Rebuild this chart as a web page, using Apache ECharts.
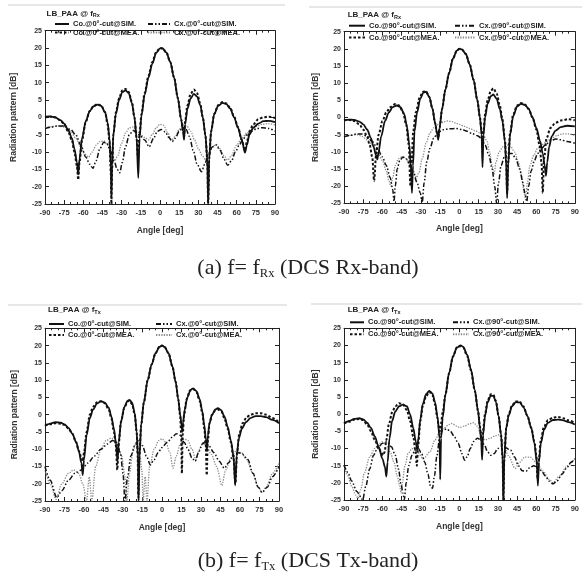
<!DOCTYPE html>
<html><head><meta charset="utf-8">
<script src="https://cdn.jsdelivr.net/npm/echarts@6/dist/echarts.min.js"></script>
<style>html,body{margin:0;padding:0;background:#fff}#c{width:582px;height:577px}</style>
</head><body><div id="c"></div>
<script>
// ---------- (a) f = fRx, 0°-cut ----------
const rx0CoSim = [[-90,0.2],[-86,0.3],[-82,0],[-78,-0.8],[-75,-1.8],[-72,-3.5],[-69,-6],[-67,-9],[-65,-13],[-64,-16.5],[-63,-12],[-61,-6],[-58,-1],[-55,1.8],[-52,3.2],[-49,3.7],[-46,3.3],[-43,1.5],[-41,-1.5],[-39.5,-6],[-38.5,-14],[-38,-23],[-37.5,-14],[-36.5,-5],[-34.5,1],[-32,5],[-29.5,7.3],[-27,7.8],[-24.5,7],[-22,4.2],[-20,0],[-18.3,-6],[-17,-17.5],[-16,-6],[-14.5,0.5],[-12,6.5],[-9,11.5],[-6,15.5],[-3,18.6],[0,19.9],[2,19.9],[5,18.7],[8,16],[11,11.5],[14,5.5],[16.5,-0.5],[18,-4],[18.8,-6.5],[19.7,-2],[21.5,2.5],[24,5.5],[26.5,6.8],[29,6],[31.5,3.5],[33.5,0],[35.5,-5],[37,-12],[37.7,-25],[38.5,-12],[40,-4],[42.5,1],[45.5,3.3],[49,4.2],[52,3.8],[55,2.5],[58,0],[61,-3],[64,-6.5],[66.5,-10.2],[68,-8],[70,-5],[73,-3],[77,-1.8],[81,-1.1],[85,-1],[90,-1.4]];
const rx0CoMea = [[-90,0],[-86,0.2],[-82,0],[-78,-0.8],[-75,-2],[-72,-4],[-69,-6.5],[-67,-10],[-65,-14],[-64,-18],[-63,-13],[-61,-6.5],[-58,-1.2],[-55,1.8],[-52,3.3],[-49,3.8],[-46,3.4],[-43,1.5],[-41,-2],[-39.5,-7],[-38.5,-16],[-38,-25],[-37.5,-15],[-36.5,-5],[-34.5,1.5],[-32,5.5],[-29.5,7.8],[-27,8.2],[-24.5,7.3],[-22,4.5],[-20,0],[-18.3,-6],[-17.2,-12],[-16,-5],[-14.5,1],[-12,7],[-9,12],[-6,16],[-3,18.8],[0,20],[2,19.9],[5,18.7],[8,16],[11,11.5],[14,5.5],[16.5,-0.5],[18,-3.5],[18.8,-5],[19.7,-1],[21.5,3.5],[24,6.8],[26.5,8],[29,7],[31.5,4],[33.5,0],[35.5,-5],[37,-12],[37.7,-25],[38.5,-12],[40,-4],[42.5,1],[45.5,3.5],[49,4.4],[52,4],[55,2.7],[58,0.2],[61,-2.8],[64,-6.5],[66.5,-9.5],[68,-7],[70,-4],[73,-2],[77,-0.5],[81,0],[85,0.2],[90,-0.2]];
const rx0CxSim = [[-90,-3.2],[-85,-2.8],[-80,-2.5],[-75,-2.5],[-70,-3.5],[-66,-5],[-62,-8],[-58,-11.5],[-55,-13.5],[-52.5,-14.7],[-50,-12.5],[-47,-9],[-44,-7.2],[-41.5,-7.5],[-39,-9.5],[-36,-12.5],[-33.5,-15],[-31.5,-16],[-29.5,-13],[-27,-8.5],[-24,-5],[-21,-3.8],[-18,-4.5],[-15,-5.5],[-12,-6.5],[-8.5,-8.5],[-5,-6],[-2,-4],[1,-3.5],[4,-4.2],[7,-5.8],[9.5,-7],[12,-6],[15,-4],[18,-3],[20.5,-3.5],[23,-5.5],[26,-9.5],[29,-13.5],[32.5,-15.7],[35,-13.5],[38,-10.5],[41,-8.5],[44,-8],[47,-9.5],[50,-12],[53,-13.8],[56,-12.5],[59,-10],[62,-8],[65,-6.3],[68,-5],[72,-4],[76,-3.2],[80,-3],[85,-3.2],[90,-4]];
const rx0CxMea = [[-90,-3],[-85,-2.7],[-80,-2.5],[-75,-2.8],[-70,-4],[-66,-6],[-62,-8.5],[-59,-10.5],[-56,-11.5],[-53,-10],[-50,-8],[-47,-7],[-44,-6.8],[-41,-8],[-38,-10.5],[-35.5,-12.5],[-33,-11],[-30,-7.5],[-27,-4.5],[-24,-3],[-21,-2.8],[-18,-4],[-15,-5],[-12,-5.8],[-9,-6.5],[-6,-5],[-3,-3],[0,-2],[3,-2.3],[6,-4.5],[9,-6.5],[12,-5.5],[15,-3.5],[18,-2.2],[21,-2.5],[24,-4],[27,-6.5],[30,-9],[33,-11],[35.5,-12.2],[38,-10.5],[41,-8.5],[44,-7.8],[47,-9],[50,-11],[53,-12.3],[56,-11],[60,-8],[64,-6],[68,-4.5],[72,-3.5],[76,-2.5],[80,-2],[85,-1.8],[90,-2.2]];

// ---------- (a) f = fRx, 90°-cut ----------
const rx90CoSim = [[-90,-0.8],[-86,-0.6],[-82,-0.7],[-78,-1.2],[-75,-2],[-72,-3.5],[-69,-6],[-67,-8.5],[-65,-11],[-64,-12.2],[-63,-10],[-61,-5.5],[-58,-1],[-55,1.5],[-52,3],[-49,3.5],[-46,3],[-43,1],[-41,-2.5],[-39,-8],[-37.8,-15],[-37,-22],[-36.2,-14],[-35,-4],[-33,1.5],[-30.5,5.5],[-28,7.3],[-26,7.5],[-23.5,6],[-21,2.5],[-19,-1.5],[-17.5,-4.5],[-16.5,-6.5],[-15.5,-3],[-13.5,2.5],[-11,8],[-8,13],[-5,17.2],[-2,19.5],[0,20],[2,19.8],[5,18.5],[8,15.5],[11,11],[14,5],[16,0],[17.3,-5],[18,-14.5],[18.8,-5],[20,0],[22,4],[24.5,6.2],[26.5,6.7],[29,5.5],[31.5,2.5],[33.5,-1],[35.5,-7],[36.5,-14],[37.2,-23.5],[38,-14],[39.5,-5],[42,0.5],[45,3.2],[48,4],[51,3.7],[54,2.5],[57,0],[60,-3],[63,-7],[65,-10.5],[66.5,-14],[67.5,-17],[68.5,-13],[70,-8.5],[72,-5.5],[75,-3.8],[79,-2.8],[84,-2.4],[90,-2.6]];
const rx90CoMea = [[-90,-0.8],[-86,-0.7],[-82,-1],[-78,-2],[-75,-3.5],[-72,-5.5],[-70,-8],[-68,-11.5],[-66.5,-18.5],[-65,-11],[-63,-5],[-60,-1],[-57,1.5],[-54,3],[-50,3.9],[-47,3.5],[-44,1.5],[-41.5,-2],[-39.5,-8],[-38.2,-20],[-37.4,-14],[-36,-4],[-34,1.5],[-31,5.8],[-28.5,7.5],[-26,7.6],[-23.5,6],[-21,2.5],[-19,-1.5],[-17.5,-4.5],[-16.5,-6],[-15.5,-3],[-13.5,2.5],[-11,8],[-8,13],[-5,17.2],[-2,19.5],[0,20],[2,19.8],[5,18.5],[8,15.5],[11,11],[14,5],[16,0],[17.3,-4],[18,-9],[18.8,-4],[20,1],[22,5],[24.5,7.8],[26.5,8.5],[29,7],[31.5,3.5],[33.5,-0.5],[35.5,-6.5],[36.5,-13],[37.2,-22],[38,-13],[39.5,-4.5],[42,1],[45,3.5],[48,4.2],[51,3.8],[54,2.5],[57,0],[60,-3.5],[62.5,-8],[64,-13],[65,-22],[66,-12],[68,-6],[71,-3],[75,-1.5],[80,-0.8],[85,-0.5],[90,-0.8]];
const rx90CxSim = [[-90,-5.6],[-85,-5.2],[-80,-4.8],[-76,-4.8],[-72,-5.5],[-68,-7],[-64,-9],[-60,-11.5],[-57,-14],[-54,-17.5],[-52,-21],[-51,-24.5],[-50,-20],[-48.5,-15],[-46.5,-12.5],[-44,-11.5],[-41.5,-12],[-39,-13.5],[-36,-16],[-33,-19],[-30.5,-22],[-29,-24.8],[-27.5,-19],[-25.5,-13],[-23,-9],[-20,-6],[-17,-4.5],[-13,-3.6],[-8,-3.3],[-3,-3.2],[2,-3.5],[6,-4],[10,-4.7],[14,-5.3],[17,-6],[20,-8],[23,-11],[25.5,-15],[27.5,-20],[29,-25],[30.5,-19],[32.5,-14],[35,-11.5],[38,-10.5],[41,-10.5],[44,-12],[47,-15],[49.5,-19],[51,-22],[52.5,-24.5],[54,-20],[56,-15.5],[58.5,-12.5],[61,-10.5],[64,-9],[67,-8],[71,-6.8],[75,-6.3],[79,-6.5],[84,-7],[90,-7.5]];
const rx90CxMea = [[-90,-5.5],[-85,-5.2],[-80,-5],[-76,-5.5],[-72,-6.5],[-68,-8],[-64,-10],[-60,-12.5],[-57,-15.5],[-55,-18.5],[-53.5,-20],[-52,-17.5],[-50,-14],[-47.5,-12],[-45,-11.5],[-42,-12],[-39,-13.5],[-36,-15.5],[-33.5,-17.5],[-31.5,-16],[-29,-12],[-26,-7.5],[-23,-4.5],[-20,-3],[-16,-2],[-12,-1.2],[-9,-1],[-6,-1.2],[-3,-1.6],[0,-2],[4,-2.6],[8,-3.2],[12,-3.8],[16,-4.5],[19,-5.2],[21.5,-7],[23.5,-10],[25.5,-14],[27,-16.5],[28.5,-13],[31,-10],[34,-8.5],[37,-8],[40,-8.5],[43,-10],[46,-13],[48.5,-17],[50.5,-22],[51.5,-23.5],[53,-19],[55,-14],[58,-11],[61,-9],[64,-8],[68,-7],[72,-6],[76,-5.3],[80,-4.8],[85,-4.8],[90,-5.2]];

// ---------- (b) f = fTx, 0°-cut ----------
const tx0CoSim = [[-90,-3.3],[-86,-2.6],[-82,-2.2],[-78,-2.3],[-75,-2.8],[-72,-3.8],[-69,-5.5],[-66,-8],[-64,-10.5],[-62,-14],[-61,-17.5],[-60,-13],[-58,-6],[-55.5,-1],[-53,1.5],[-50,3.2],[-47,3.9],[-44,3.5],[-41,2],[-39,-0.5],[-37,-4],[-35.5,-8],[-34.2,-13.5],[-33.3,-8],[-31.5,-2],[-29,2.2],[-26.5,4],[-25,4.3],[-23,3.5],[-21,0.5],[-19.5,-5],[-18.5,-12],[-18,-25],[-17.3,-12],[-16,-3],[-14,3.5],[-11,10],[-8,14.5],[-5,17.8],[-2,19.6],[0,20],[2,19.6],[5,17.8],[8,14],[10.5,9.5],[12.5,4.5],[14,0],[15,-3],[15.6,-5],[16.3,-2],[17.5,1.5],[19.5,5],[22,7.2],[24,7.6],[26.5,6.8],[29,4.5],[31,1],[32.5,-3],[33.7,-7],[34.5,-10.5],[35.3,-6],[36.5,-2.5],[38.5,0],[41,1.5],[43,1.9],[45.5,1.3],[48,-0.5],[50.5,-3.5],[53,-7.5],[55,-12],[56.3,-20.5],[57.5,-12],[59,-7],[61.5,-4],[64.5,-2.2],[68,-1],[72,-0.4],[76,-0.4],[80,-0.7],[85,-1.5],[90,-2.5]];
const tx0CoMea = [[-90,-3],[-86,-2.8],[-82,-2.5],[-78,-2.6],[-75,-3],[-72,-4],[-69,-5.5],[-66,-8],[-64,-10.5],[-62,-12.5],[-61,-13.5],[-60,-11],[-58,-5],[-55.5,0],[-53,2.3],[-50,3.6],[-47,3.8],[-44,3.3],[-41,1.5],[-39,-1],[-37,-5],[-35.5,-9],[-34.4,-16],[-33.5,-9],[-31.5,-2],[-29,2],[-26.5,3.8],[-25,4],[-23,3],[-21,0],[-19.5,-5],[-18.7,-12],[-18.2,-24],[-17.5,-12],[-16,-3],[-14,3.5],[-11,10],[-8,14.5],[-5,17.8],[-2,19.6],[0,20],[2,19.6],[5,17.8],[8,14],[10.5,9.5],[12.5,4.5],[14,-0.5],[14.8,-6],[15.3,-17],[15.9,-6],[17,0],[19,4.5],[21.5,7],[24,7.4],[26.5,6.5],[29,4],[31,0.5],[32.5,-4],[33.7,-9],[34.4,-17.5],[35.2,-8],[36.5,-2.5],[38.5,0],[41,1.2],[43,1.5],[45.5,1],[48,-1],[50.5,-4],[53,-8],[55,-12.5],[56.5,-20],[57.7,-11],[59.5,-5.5],[62,-2.5],[65,-0.8],[68,0],[72,0.4],[76,0.4],[80,0],[85,-1],[90,-2.3]];
const tx0CxSim = [[-90,-15],[-86,-19],[-81,-24],[-77,-22],[-72,-19],[-67,-17],[-62,-16],[-57,-14],[-52,-12],[-47,-10],[-42,-8.5],[-38,-7.5],[-35,-8],[-32,-11],[-30,-17],[-28.5,-25],[-26.5,-18],[-24,-12],[-21,-9],[-18,-7.5],[-15,-9],[-12,-12],[-9,-14.5],[-6,-13],[-3,-11],[0,-9.5],[4,-8],[8,-6.5],[11,-5.5],[14,-6],[17,-8],[20,-10],[23,-12.5],[25.5,-13.5],[28,-11],[31,-8.5],[33,-8],[36,-9],[40,-11],[44,-13.5],[48,-15.5],[51,-14],[55,-12],[59,-11],[62,-11.5],[66,-13],[70,-17],[74,-21],[77,-22.5],[81,-21],[85,-18],[90,-15]];
const tx0CxMea = [[-90,-16],[-86,-20],[-81.5,-24.5],[-77,-20],[-72,-17],[-68,-16],[-64,-17],[-61,-20],[-58,-25],[-56,-18],[-54,-25],[-51,-15],[-47,-10],[-43,-7.5],[-39,-6.8],[-35,-8],[-31,-12],[-28.5,-18],[-27,-25],[-25,-17],[-22.5,-11],[-20,-8],[-17.5,-10],[-15.5,-16],[-14.5,-25],[-13,-18],[-11.5,-25],[-9.5,-15],[-6,-10],[-2.5,-7.5],[0,-7],[3,-8],[6,-11],[8.5,-15.5],[11,-12],[14,-8.5],[17,-7],[20,-7.5],[23,-10],[26,-13],[29,-10],[31.5,-8],[34,-9],[38,-11.5],[42,-15],[46,-20.5],[49,-16],[53,-12.5],[57,-10.5],[61,-11],[65,-13],[70,-17],[74,-21],[77,-22.5],[80,-21],[85,-17],[90,-14]];

// ---------- (b) f = fTx, 90°-cut ----------
const tx90CoSim = [[-90,-2.7],[-86,-2],[-82,-1.4],[-78,-1.2],[-75,-1.5],[-72,-2.5],[-69,-4],[-66,-6.5],[-63,-9.5],[-60,-13],[-58,-15.5],[-57,-18.2],[-56,-14],[-54.5,-7],[-52.5,-2],[-50,0.8],[-47,2.3],[-44,2.8],[-41,2.3],[-38.5,0],[-36,-4],[-34,-8],[-33,-10.5],[-32,-7],[-30.5,-1.5],[-28.5,3],[-26,5.8],[-23.5,6.8],[-21,6],[-19,3.5],[-17,-1],[-15.5,-7],[-15,-19],[-14.3,-7],[-13,-1],[-11,5.5],[-8,12],[-5,16.8],[-2,19.4],[1,20],[3,19.6],[6,17.3],[9,13],[12,7],[14.5,1],[16,-4],[17,-8],[17.7,-13.3],[18.5,-6],[20,-0.5],[22,3.5],[24.5,5.4],[26.5,5.3],[28.5,3.5],[30.5,-0.5],[32.5,-6],[33.7,-13],[34.3,-25],[35,-13],[36.5,-4],[38.5,-0.3],[41,2.3],[44,3.5],[47,3.4],[50,2],[53,-0.5],[56,-4],[58.5,-8.5],[60.3,-14],[61.2,-20.8],[62,-14],[63.5,-8.5],[66,-4.5],[69,-2.5],[73,-1.7],[77,-1.6],[81,-1.8],[85,-2.3],[90,-3]];
const tx90CoMea = [[-90,-2.7],[-86,-2.2],[-82,-1.6],[-78,-1.4],[-75,-1.8],[-72,-3],[-69,-5],[-66,-7.5],[-63,-10],[-61,-11],[-59.5,-12],[-58.3,-11],[-57,-7.5],[-55,-3],[-52.5,0.5],[-50,2.3],[-47,3.2],[-44,2.8],[-41,1.2],[-38.5,-2],[-36,-6.5],[-34.2,-11],[-33.2,-15],[-32.2,-9],[-30.5,-2],[-28.5,2.5],[-26,5.2],[-23.5,6.5],[-21,5.5],[-19,2.8],[-17.2,-1],[-16,-4],[-15.3,-5],[-14.5,-3],[-13,0.5],[-11,5.5],[-8,12],[-5,16.8],[-2,19.4],[1,19.8],[3,19.4],[6,17],[9,12.8],[12,6.8],[14.5,1],[16,-3.5],[17,-6.5],[17.5,-8],[18.3,-5],[20,0],[22,4],[24.5,5.8],[26.5,5.6],[28.5,3.8],[30.5,-0.5],[32.5,-6],[33.7,-13],[34.3,-25],[35,-13],[36.5,-4],[38.5,0],[41,2.6],[44,3.7],[47,3.6],[50,2.2],[53,-0.5],[56,-4],[58.5,-8],[60,-12],[61,-19],[62,-13],[63.5,-7.5],[66,-3.5],[69,-1.8],[73,-1],[77,-0.8],[81,-1.2],[85,-1.8],[90,-2.6]];
const tx90CxSim = [[-90,-14.8],[-87,-17],[-84,-19.5],[-80,-22.5],[-77,-24],[-75.5,-25],[-73,-21],[-70,-16],[-67,-12],[-64,-10],[-60,-8.5],[-56.5,-8],[-53,-9.5],[-50,-12],[-47.5,-16],[-45.5,-20.5],[-44,-23],[-43,-25],[-41.5,-20],[-39.5,-15],[-37,-12],[-34.5,-10.5],[-32,-10],[-29.5,-11.5],[-27,-14],[-24.5,-17.5],[-22.5,-21],[-21,-21.6],[-19.5,-18],[-17.5,-12],[-15.5,-7],[-13,-4.6],[-10,-4.3],[-7,-5],[-4,-6.5],[-1,-8.5],[2,-11.5],[4,-13.4],[6,-12.5],[8.5,-10],[11,-8],[14,-7],[17,-7.5],[19.5,-9],[22,-11],[24.5,-12],[27,-11.5],[30,-10],[33,-9.5],[36,-9.8],[40,-10.5],[43,-12.5],[46,-15],[49,-16.5],[52,-16.6],[55,-15.5],[58,-15],[61,-15.5],[64,-16.5],[67,-18],[70,-19.5],[73,-20.3],[76,-19.5],[80,-17.5],[84,-15.5],[87,-14],[90,-13]];
const tx90CxMea = [[-90,-15],[-87,-18],[-84,-21],[-81,-23.5],[-79,-24.5],[-77,-22],[-74,-17],[-70,-12.5],[-66,-10],[-62,-8.5],[-60,-8],[-57,-9],[-54,-11],[-51,-14],[-48.5,-18],[-46.5,-21],[-45.5,-23],[-44.5,-20],[-42.5,-15],[-40,-11.5],[-37,-10],[-33,-11],[-28,-13],[-23,-11],[-19,-7.5],[-15,-5],[-12,-4],[-8,-3],[-6,-2.7],[-2,-3.5],[0,-3.9],[4,-3.5],[8,-2.8],[11,-2.5],[14,-3.5],[17,-6.5],[20,-7.5],[24,-7],[28,-6.3],[31,-6],[34,-8],[38,-12],[43.5,-15.8],[47,-14],[51,-12.5],[55,-12.5],[60,-14],[65,-16.5],[70,-19],[73,-20],[78,-18],[84,-15],[90,-13]];

// ---------- axis ticks ----------
const xMin = -90, xMax = 90, xStep = 15;
const yMin = -25, yMax = 25, yStep = 5;

const panels = [
  {grid:{left:45,top:30.7,width:230,height:173.3}, cut:'0', band:'Rx', co:[rx0CoSim,rx0CoMea], cx:[rx0CxSim,rx0CxMea],
   yGap:27, xGap:22, lg:{coL:54,coW:14,cxL:147,cxW:22,r1:20,r2:28.5}, tt:{x:46.5,y:13.3}},
  {grid:{left:344,top:31.7,width:234,height:171.6}, cut:'90', band:'Rx', co:[rx90CoSim,rx90CoMea], cx:[rx90CxSim,rx90CxMea],
   yGap:23.5, xGap:21, lg:{coL:348,coW:16,cxL:454,cxW:20,r1:21.7,r2:33.5}, tt:{x:347.7,y:15}},
  {grid:{left:45,top:328.3,width:234,height:172.7}, cut:'0', band:'Tx', co:[tx0CoSim,tx0CoMea], cx:[tx0CxSim,tx0CxMea],
   yGap:25.5, xGap:22, lg:{coL:48,coW:15,cxL:155,cxW:16,r1:320,r2:331}, tt:{x:48,y:310}},
  {grid:{left:344,top:328.3,width:234,height:171.7}, cut:'90', band:'Tx', co:[tx90CoSim,tx90CoMea], cx:[tx90CxSim,tx90CxMea],
   yGap:23.5, xGap:22, lg:{coL:349,coW:14,cxL:452,cxW:16,r1:318.3,r2:330.3}, tt:{x:347.7,y:310}}
];

const FONT = 'Liberation Sans, Arial, sans-serif';
const LBL = {fontSize:7.5, fontWeight:'bold', color:'#333', fontFamily:FONT};
const styles = {
  coSim:{color:'#111', width:1.8, type:'solid'},
  coMea:{color:'#111', width:2, type:[2.5,2]},
  cxSim:{color:'#111', width:1.5, type:[5,2,1.5,2,1.5,2]},
  cxMea:{color:'#8a8a8a', width:1.3, type:[1.3,1.3]}
};

const grid=[], xAxis=[], yAxis=[], series=[], legend=[], graphic=[];
panels.forEach((p,g)=>{
  grid.push(Object.assign({containLabel:false}, p.grid));
  const axLine = {show:true, onZero:false, lineStyle:{color:'#222', width:1}};
  xAxis.push({gridIndex:g, type:'value', min:xMin, max:xMax, interval:xStep, position:'bottom',
    axisLine:axLine, axisTick:{inside:true, length:4, lineStyle:{color:'#222'}},
    minorTick:{show:true, splitNumber:3, length:2, lineStyle:{color:'#222'}},
    splitLine:{show:false}, axisLabel:Object.assign({margin:5}, LBL),
    name:'Angle [deg]', nameLocation:'middle', nameGap:p.xGap,
    nameTextStyle:{fontSize:8.5, fontWeight:'bold', color:'#333', fontFamily:FONT}});
  xAxis.push({gridIndex:g, type:'value', min:xMin, max:xMax, interval:xStep, position:'top',
    axisLine:axLine, axisTick:{inside:true, length:4, lineStyle:{color:'#222'}},
    minorTick:{show:true, splitNumber:3, length:2, lineStyle:{color:'#222'}},
    splitLine:{show:false}, axisLabel:{show:false}});
  yAxis.push({gridIndex:g, type:'value', min:yMin, max:yMax, interval:yStep, position:'left',
    axisLine:axLine, axisTick:{inside:true, length:4, lineStyle:{color:'#222'}},
    splitLine:{show:false}, axisLabel:Object.assign({margin:3}, LBL, {fontSize:7}),
    name:'Radiation pattern [dB]', nameLocation:'middle', nameGap:p.yGap,
    nameTextStyle:{fontSize:8.5, fontWeight:'bold', color:'#333', fontFamily:FONT}});
  yAxis.push({gridIndex:g, type:'value', min:yMin, max:yMax, interval:yStep, position:'right',
    axisLine:axLine, axisTick:{inside:true, length:4, lineStyle:{color:'#222'}},
    splitLine:{show:false}, axisLabel:{show:false}});

  const names = {
    coSim:`Co.@${p.cut}°-cut@SIM.`, coMea:`Co.@${p.cut}°-cut@MEA.`,
    cxSim:`Cx.@${p.cut}°-cut@SIM.`, cxMea:`Cx.@${p.cut}°-cut@MEA.`
  };
  const sets = [['cxMea',p.cx[1]],['cxSim',p.cx[0]],['coSim',p.co[0]],['coMea',p.co[1]]];
  sets.forEach(([k,d])=>{
    series.push({type:'line', name:names[k], data:d, xAxisIndex:2*g, yAxisIndex:2*g,
      symbol:'none', smooth:0.3, smoothMonotone:'x', lineStyle:styles[k], itemStyle:{color:styles[k].color},
      animation:false});
  });
  const L = p.lg;
  const lgItems = [['coSim',L.coL,L.coW,L.r1],['coMea',L.coL,L.coW,L.r2],['cxSim',L.cxL,L.cxW,L.r1],['cxMea',L.cxL,L.cxW,L.r2]];
  lgItems.forEach(([k,left,w,top])=>{
    legend.push({data:[names[k]], left:left, top:top, padding:0, itemGap:0, itemWidth:w, itemHeight:8,
      selectedMode:false, itemStyle:{color:'rgba(0,0,0,0)', borderWidth:0, opacity:0},
      textStyle:{fontSize:7.5, fontWeight:'bold', color:'#222', fontFamily:FONT, lineHeight:8, padding:[0,0,0,-1]}});
  });
  graphic.push({type:'text', x:p.tt.x, y:p.tt.y, style:{
    text:`{t|LB_PAA @ f}{s|${p.band}}`, verticalAlign:'middle', align:'left',
    rich:{t:{fontSize:8, fontWeight:'bold', fontFamily:FONT, fill:'#222', lineHeight:10},
          s:{fontSize:5.5, fontWeight:'bold', fontFamily:FONT, fill:'#222', lineHeight:7, verticalAlign:'bottom'}}}});
});

// faint scan edge lines from the source figure
[[8,5,285,5],[309,7,582,7],[8,305,287,305],[311,304,582,304]].forEach(s=>{
  graphic.push({type:'line', shape:{x1:s[0],y1:s[1],x2:s[2],y2:s[3]}, style:{stroke:'#cfcfcf', lineWidth:1}, silent:true});
});

const capRich = {m:{fontFamily:'Liberation Serif, Times New Roman, serif', fontSize:22, fill:'#222', lineHeight:25},
                 s:{fontFamily:'Liberation Serif, Times New Roman, serif', fontSize:12.5, fill:'#222', lineHeight:16, verticalAlign:'bottom'}};
graphic.push({type:'text', x:308, y:268, style:{text:'{m|(a) f= f}{s|Rx}{m| (DCS Rx-band)}', rich:capRich, align:'center', verticalAlign:'middle'}});
graphic.push({type:'text', x:308, y:561, style:{text:'{m|(b) f= f}{s|Tx}{m| (DCS Tx-band)}', rich:capRich, align:'center', verticalAlign:'middle'}});

const chart = echarts.init(document.getElementById('c'), null, {renderer:'canvas'});
chart.setOption({backgroundColor:'#fff', animation:false, grid, xAxis, yAxis, series, legend, graphic});
</script></body></html>
